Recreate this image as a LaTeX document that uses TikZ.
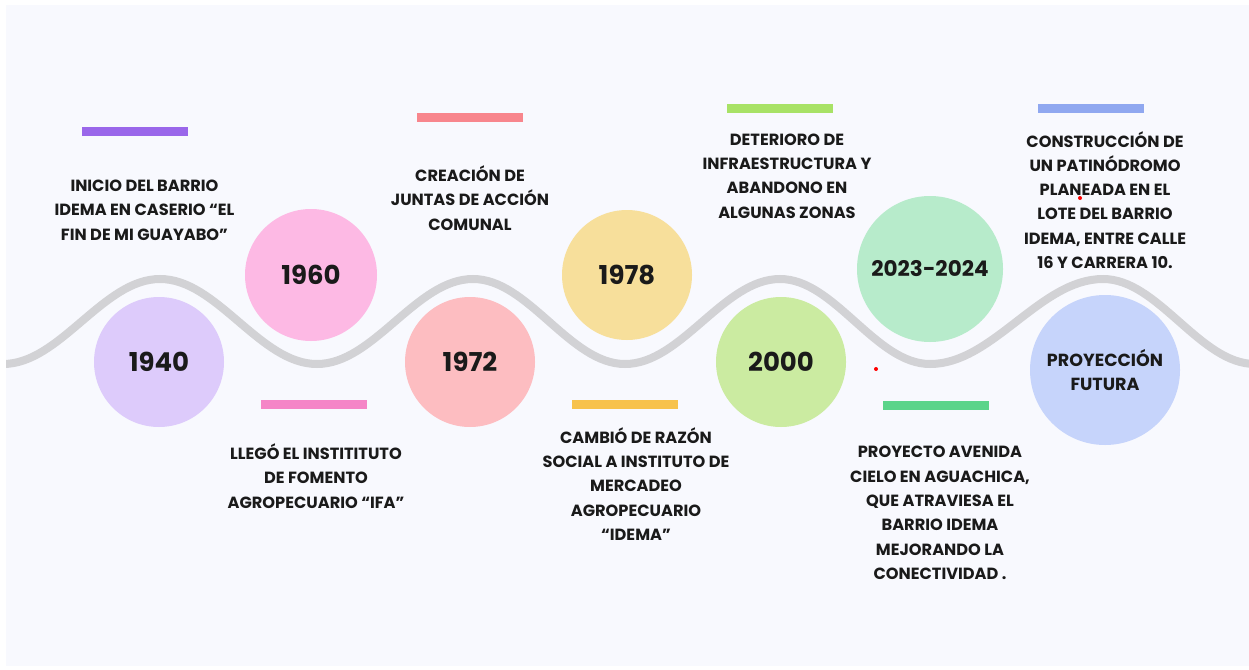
\documentclass[tikz,border=0pt]{standalone}
\usepackage{fontspec}
\setmainfont{Poppins}
\definecolor{panel}{HTML}{F8F9FE}
\definecolor{wavec}{HTML}{D2D2D5}
\definecolor{txt}{HTML}{1A1A1A}
\definecolor{cA}{HTML}{DDCBFB}
\definecolor{cB}{HTML}{FDB9E4}
\definecolor{cC}{HTML}{FDBDC1}
\definecolor{cD}{HTML}{F7DF9B}
\definecolor{cE}{HTML}{CBEBA1}
\definecolor{cF}{HTML}{B7EBCB}
\definecolor{cG}{HTML}{C6D4FB}
\definecolor{bA}{HTML}{9A67EA}
\definecolor{bB}{HTML}{F585C7}
\definecolor{bC}{HTML}{F8868D}
\definecolor{bD}{HTML}{F7C24C}
\definecolor{bE}{HTML}{A8E266}
\definecolor{bF}{HTML}{5BD48A}
\definecolor{bG}{HTML}{90A8F0}
\begin{document}
\begin{tikzpicture}[x=1pt,y=-1pt]
\tikzset{
  captxt/.style={font=\bfseries\fontsize{16.2}{24.3}\selectfont, align=center, text=txt, inner sep=0pt},
  yr/.style={circle, inner sep=0pt, minimum size=130pt, font=\bfseries\fontsize{26}{30}\selectfont, text=txt},
  bigyr/.style={circle, inner sep=0pt, minimum size=#1, font=\bfseries\fontsize{21.5}{26}\selectfont, text=txt},
  bar/.style={rectangle, inner sep=0pt, minimum width=106pt, minimum height=9pt},
  wave/.style={draw=wavec, line width=8pt},
  dot/.style={circle, fill=red, inner sep=0pt, minimum size=4pt}
}
\useasboundingbox (0,0) rectangle (1249,669);
\fill[white] (0,0) rectangle (1249,669);
\fill[panel] (6,5) rectangle (1249,666);
\begin{scope}
\clip (6,5) rectangle (1249,666);
\draw[wave] (3,364) cos (81.5,321.5) sin (160,279) cos (238.5,321.5) sin (317,364)
  cos (395,321.5) sin (473,279) cos (549,321.5) sin (625,364)
  cos (702.5,321.5) sin (780,279) cos (855,321.5) sin (930,364)
  cos (1016.5,321.5) sin (1103,279) cos (1179,321.5) sin (1255,364);
\end{scope}
% circles
\node[yr, fill=cA] (y1940) at (159,362) {1940};
\node[yr, fill=cB, minimum size=132pt] (y1960) at (311,275) {1960};
\node[yr, fill=cC] (y1972) at (470,362) {1972};
\node[yr, fill=cD] (y1978) at (627,275) {1978};
\node[yr, fill=cE] (y2000) at (781,362) {2000};
\node[bigyr=146pt, fill=cF] (y2023) at (930,269) {2023-2024};
\node[circle, inner sep=0pt, minimum size=150pt, fill=cG, font=\bfseries\fontsize{17.5}{24}\selectfont, text=txt, align=center] (yfut) at (1105,370) {PROYECCIÓN\\FUTURA};
% bars
\node[bar, fill=bA] (b1940) at (134.5,131.5) {};
\node[bar, fill=bB] (b1960) at (314,404.5) {};
\node[bar, fill=bC] (b1972) at (470,117.5) {};
\node[bar, fill=bD] (b1978) at (625,404.5) {};
\node[bar, fill=bE] (b2000) at (780,108.5) {};
\node[bar, fill=bF] (b2023) at (936,405) {};
\node[bar, fill=bG] (bfut) at (1091,108.5) {};
% captions
\node[captxt] (t1940) at (144.5,210) {INICIO DEL BARRIO\\IDEMA EN CASERIO “EL\\FIN DE MI GUAYABO”};
\node[captxt] (t1960) at (316,476) {LLEGÓ EL INSTITITUTO\\DE FOMENTO\\AGROPECUARIO “IFA”};
\node[captxt] (t1972) at (470,198) {CREACIÓN DE\\JUNTAS DE ACCIÓN\\COMUNAL};
\node[captxt] (t1978) at (636,484) {CAMBIÓ DE RAZÓN\\SOCIAL A INSTITUTO DE\\MERCADEO\\AGROPECUARIO\\“IDEMA”};
\node[captxt] (t2000) at (787,176) {DETERIORO DE\\INFRAESTRUCTURA Y\\ABANDONO EN\\ALGUNAS ZONAS};
\node[captxt] (t2023) at (940,513) {PROYECTO AVENIDA\\CIELO EN AGUACHICA,\\QUE ATRAVIESA EL\\BARRIO IDEMA\\MEJORANDO LA\\CONECTIVIDAD .};
\node[captxt] (tfut) at (1105,200) {CONSTRUCCIÓN DE\\UN PATINÓDROMO\\PLANEADA EN EL\\LOTE DEL BARRIO\\IDEMA, ENTRE CALLE\\16 Y CARRERA 10.};
% stray dots
\node[dot] (d1) at (1080,198) {};
\node[dot] (d2) at (876,369) {};
\end{tikzpicture}
\end{document}
